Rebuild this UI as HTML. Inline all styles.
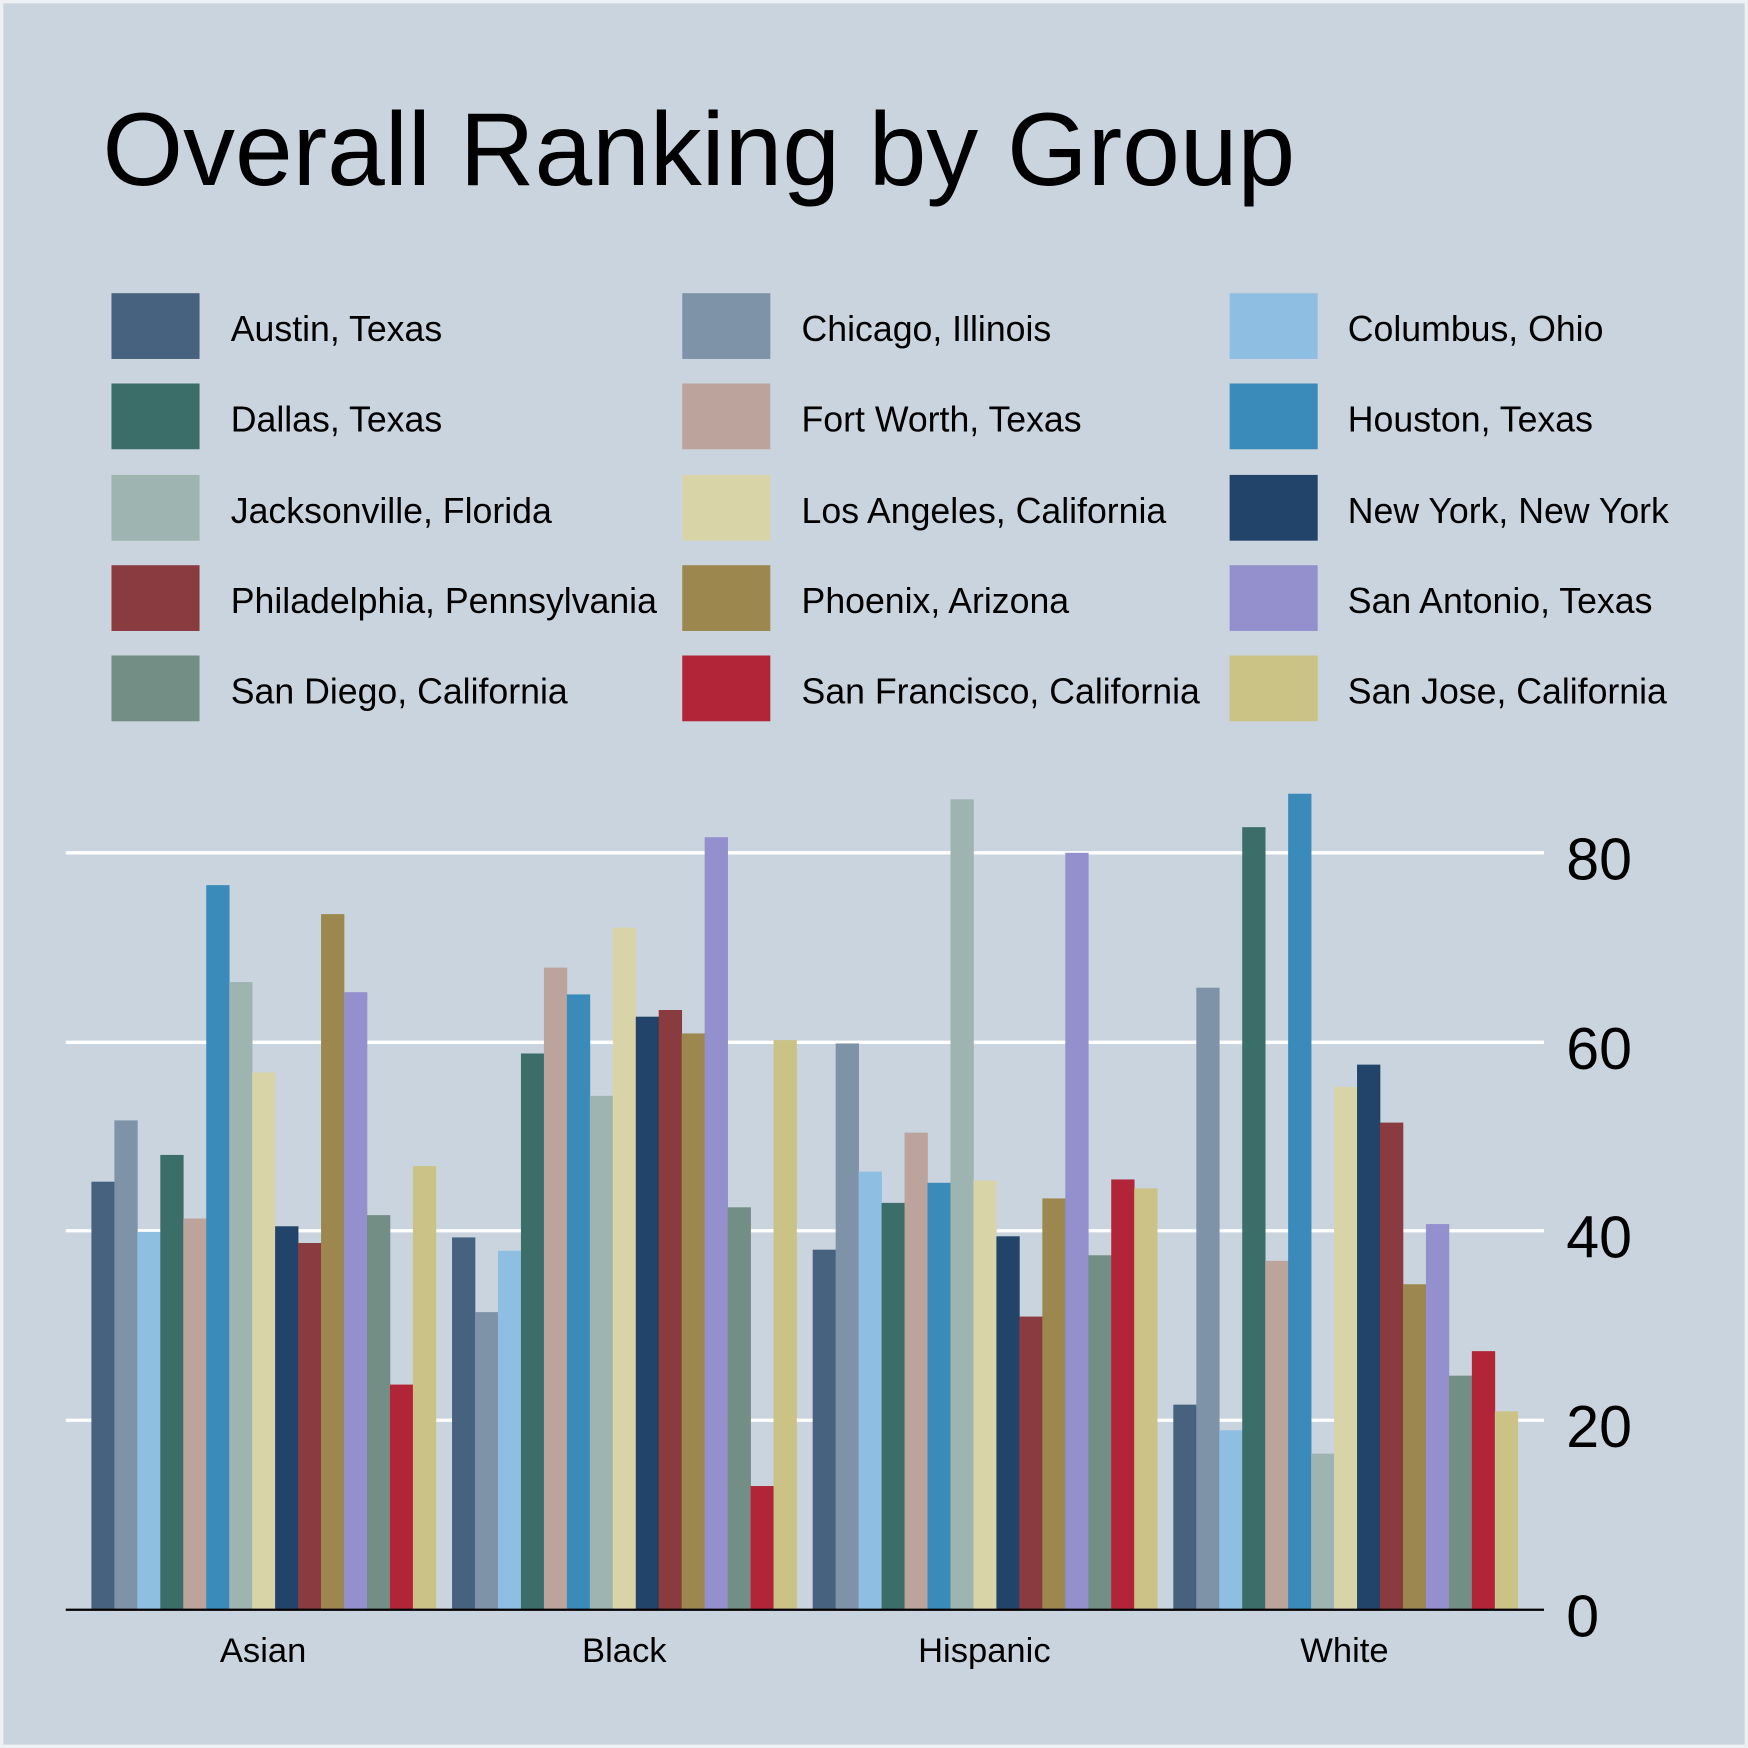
<!DOCTYPE html>
<html><head><style>html,body{margin:0;padding:0;background:#fff}svg{display:block}</style></head>
<body>
<svg width="1748" height="1748" viewBox="0 0 1568 1568" xmlns="http://www.w3.org/2000/svg" font-family="Liberation Sans, Arial, sans-serif">
<defs>
<g id="cols">
</g>
</defs>
<rect x="0" y="0" width="1568" height="1568" fill="#eef1f4"/>
<rect x="3" y="3" width="1562" height="1562" fill="#cad4de"/>
<text x="92" y="166" font-size="93" fill="#000">Overall Ranking by Group</text>
<g font-size="32" fill="#000">
<rect x="100" y="263" width="79" height="59" fill="#46627e"/><text x="207" y="306">Austin, Texas</text>
<rect x="612" y="263" width="79" height="59" fill="#7f93a8"/><text x="719" y="306">Chicago, Illinois</text>
<rect x="1103" y="263" width="79" height="59" fill="#8fbee3"/><text x="1209" y="306">Columbus, Ohio</text>
<rect x="100" y="344" width="79" height="59" fill="#3c6e69"/><text x="207" y="387">Dallas, Texas</text>
<rect x="612" y="344" width="79" height="59" fill="#bca49c"/><text x="719" y="387">Fort Worth, Texas</text>
<rect x="1103" y="344" width="79" height="59" fill="#3a8aba"/><text x="1209" y="387">Houston, Texas</text>
<rect x="100" y="426" width="79" height="59" fill="#9db4b0"/><text x="207" y="469">Jacksonville, Florida</text>
<rect x="612" y="426" width="79" height="59" fill="#d8d4a8"/><text x="719" y="469">Los Angeles, California</text>
<rect x="1103" y="426" width="79" height="59" fill="#23446a"/><text x="1209" y="469">New York, New York</text>
<rect x="100" y="507" width="79" height="59" fill="#8a3b3f"/><text x="207" y="550">Philadelphia, Pennsylvania</text>
<rect x="612" y="507" width="79" height="59" fill="#9c884e"/><text x="719" y="550">Phoenix, Arizona</text>
<rect x="1103" y="507" width="79" height="59" fill="#9490ce"/><text x="1209" y="550">San Antonio, Texas</text>
<rect x="100" y="588" width="79" height="59" fill="#738e84"/><text x="207" y="631">San Diego, California</text>
<rect x="612" y="588" width="79" height="59" fill="#b22538"/><text x="719" y="631">San Francisco, California</text>
<rect x="1103" y="588" width="79" height="59" fill="#cbc285"/><text x="1209" y="631">San Jose, California</text>
</g>
<g stroke="#fff" stroke-width="3">
<line x1="59" y1="765" x2="1385" y2="765"/><line x1="59" y1="935" x2="1385" y2="935"/><line x1="59" y1="1104" x2="1385" y2="1104"/><line x1="59" y1="1274" x2="1385" y2="1274"/>
</g>
<g transform="translate(82,0)">
<rect x="0" y="1060" width="20.9" height="384" fill="#46627e"/>
<rect x="20.6" y="1005" width="20.9" height="439" fill="#7f93a8"/>
<rect x="41.2" y="1105" width="20.9" height="339" fill="#8fbee3"/>
<rect x="61.8" y="1036" width="20.9" height="408" fill="#3c6e69"/>
<rect x="82.4" y="1093" width="20.9" height="351" fill="#bca49c"/>
<rect x="103" y="794" width="20.9" height="650" fill="#3a8aba"/>
<rect x="123.6" y="881" width="20.9" height="563" fill="#9db4b0"/>
<rect x="144.2" y="962" width="20.9" height="482" fill="#d8d4a8"/>
<rect x="164.8" y="1100" width="20.9" height="344" fill="#23446a"/>
<rect x="185.4" y="1115" width="20.9" height="329" fill="#8a3b3f"/>
<rect x="206" y="820" width="20.9" height="624" fill="#9c884e"/>
<rect x="226.6" y="890" width="20.9" height="554" fill="#9490ce"/>
<rect x="247.2" y="1090" width="20.9" height="354" fill="#738e84"/>
<rect x="267.8" y="1242" width="20.9" height="202" fill="#b22538"/>
<rect x="288.4" y="1046" width="20.9" height="398" fill="#cbc285"/>
</g>
<g transform="translate(405.5,0)">
<rect x="0" y="1110" width="20.9" height="334" fill="#46627e"/>
<rect x="20.6" y="1177" width="20.9" height="267" fill="#7f93a8"/>
<rect x="41.2" y="1122" width="20.9" height="322" fill="#8fbee3"/>
<rect x="61.8" y="945" width="20.9" height="499" fill="#3c6e69"/>
<rect x="82.4" y="868" width="20.9" height="576" fill="#bca49c"/>
<rect x="103" y="892" width="20.9" height="552" fill="#3a8aba"/>
<rect x="123.6" y="983" width="20.9" height="461" fill="#9db4b0"/>
<rect x="144.2" y="832" width="20.9" height="612" fill="#d8d4a8"/>
<rect x="164.8" y="912" width="20.9" height="532" fill="#23446a"/>
<rect x="185.4" y="906" width="20.9" height="538" fill="#8a3b3f"/>
<rect x="206" y="927" width="20.9" height="517" fill="#9c884e"/>
<rect x="226.6" y="751" width="20.9" height="693" fill="#9490ce"/>
<rect x="247.2" y="1083" width="20.9" height="361" fill="#738e84"/>
<rect x="267.8" y="1333" width="20.9" height="111" fill="#b22538"/>
<rect x="288.4" y="933" width="20.9" height="511" fill="#cbc285"/>
</g>
<g transform="translate(729,0)">
<rect x="0" y="1121" width="20.9" height="323" fill="#46627e"/>
<rect x="20.6" y="936" width="20.9" height="508" fill="#7f93a8"/>
<rect x="41.2" y="1051" width="20.9" height="393" fill="#8fbee3"/>
<rect x="61.8" y="1079" width="20.9" height="365" fill="#3c6e69"/>
<rect x="82.4" y="1016" width="20.9" height="428" fill="#bca49c"/>
<rect x="103" y="1061" width="20.9" height="383" fill="#3a8aba"/>
<rect x="123.6" y="717" width="20.9" height="727" fill="#9db4b0"/>
<rect x="144.2" y="1059" width="20.9" height="385" fill="#d8d4a8"/>
<rect x="164.8" y="1109" width="20.9" height="335" fill="#23446a"/>
<rect x="185.4" y="1181" width="20.9" height="263" fill="#8a3b3f"/>
<rect x="206" y="1075" width="20.9" height="369" fill="#9c884e"/>
<rect x="226.6" y="765" width="20.9" height="679" fill="#9490ce"/>
<rect x="247.2" y="1126" width="20.9" height="318" fill="#738e84"/>
<rect x="267.8" y="1058" width="20.9" height="386" fill="#b22538"/>
<rect x="288.4" y="1066" width="20.9" height="378" fill="#cbc285"/>
</g>
<g transform="translate(1052.5,0)">
<rect x="0" y="1260" width="20.9" height="184" fill="#46627e"/>
<rect x="20.6" y="886" width="20.9" height="558" fill="#7f93a8"/>
<rect x="41.2" y="1283" width="20.9" height="161" fill="#8fbee3"/>
<rect x="61.8" y="742" width="20.9" height="702" fill="#3c6e69"/>
<rect x="82.4" y="1131" width="20.9" height="313" fill="#bca49c"/>
<rect x="103" y="712" width="20.9" height="732" fill="#3a8aba"/>
<rect x="123.6" y="1304" width="20.9" height="140" fill="#9db4b0"/>
<rect x="144.2" y="975" width="20.9" height="469" fill="#d8d4a8"/>
<rect x="164.8" y="955" width="20.9" height="489" fill="#23446a"/>
<rect x="185.4" y="1007" width="20.9" height="437" fill="#8a3b3f"/>
<rect x="206" y="1152" width="20.9" height="292" fill="#9c884e"/>
<rect x="226.6" y="1098" width="20.9" height="346" fill="#9490ce"/>
<rect x="247.2" y="1234" width="20.9" height="210" fill="#738e84"/>
<rect x="267.8" y="1212" width="20.9" height="232" fill="#b22538"/>
<rect x="288.4" y="1266" width="20.9" height="178" fill="#cbc285"/>
</g>
<line x1="59" y1="1444" x2="1385" y2="1444" stroke="#000" stroke-width="2"/>
<g font-size="53" fill="#000">
<text x="1405" y="789">80</text><text x="1405" y="959">60</text><text x="1405" y="1128">40</text><text x="1405" y="1298">20</text><text x="1405" y="1468">0</text>
</g>
<g font-size="31" fill="#000" text-anchor="middle">
<text x="236" y="1491">Asian</text><text x="560" y="1491">Black</text><text x="883" y="1491">Hispanic</text><text x="1206" y="1491">White</text>
</g>
</svg>
</body></html>
